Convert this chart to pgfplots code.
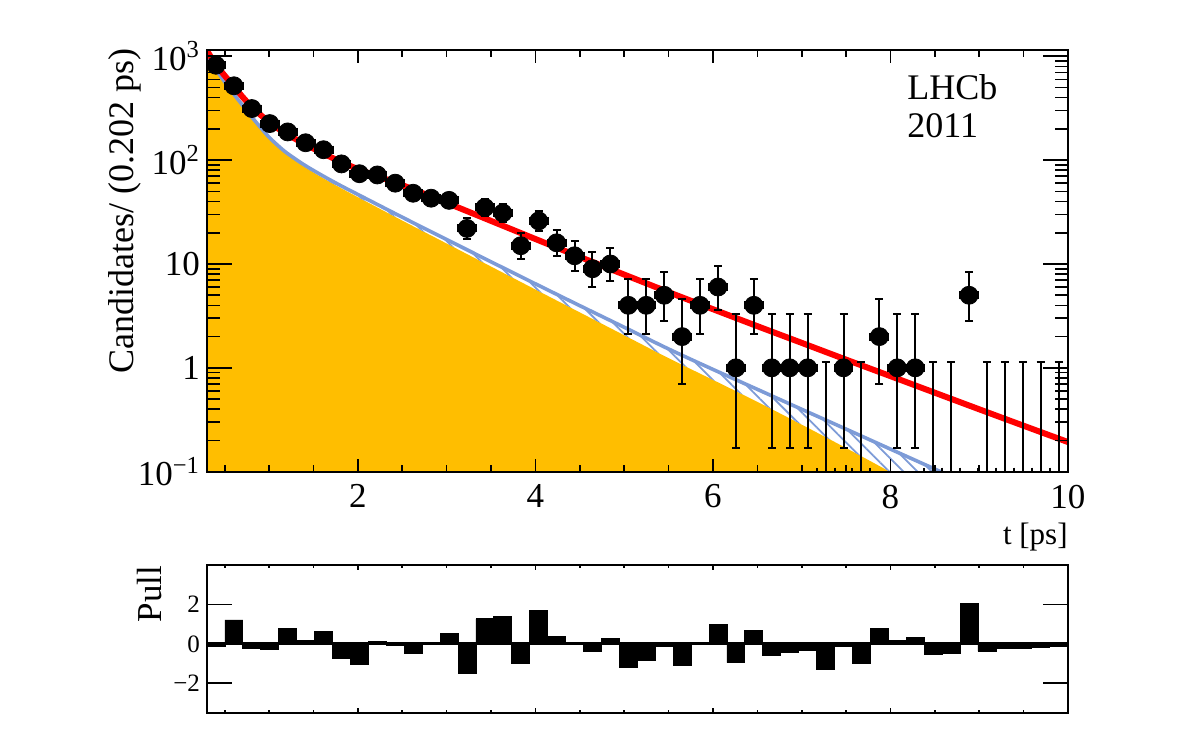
\documentclass[border=0pt]{standalone}
\usepackage{fontspec}
\setmainfont{Liberation Serif}
\usepackage{pgfplots}
\usepackage{pgfplotstable}
\pgfplotsset{compat=1.18}
\usepgfplotslibrary{fillbetween}
\usetikzlibrary{patterns.meta}

\definecolor{sigorange}{RGB}{255,190,0}
\definecolor{bkgblue}{RGB}{125,155,215}
\definecolor{fitred}{RGB}{255,0,0}

\newcommand{\fs}[1]{\fontsize{#1}{#1}\selectfont}

% decay-time histogram: bin centre, candidates, upper and lower Poisson errors
\pgfplotstableread{
t n ep em
0.401 820 29.6 28.6
0.603 520 23.8 22.8
0.805 314 18.7 17.7
1.007 225 16.0 15.0
1.209 187 14.7 13.7
1.411 147 13.1 12.1
1.613 126 12.2 11.2
1.815 92 10.6 9.6
2.017 74 9.6 8.6
2.219 72 9.5 8.5
2.421 60 8.8 7.7
2.623 48 8.0 6.9
2.825 43 7.6 6.5
3.027 41 7.4 6.4
3.229 22 5.8 4.7
3.431 35 7.0 5.9
3.633 31 6.6 5.5
3.835 15 5.0 3.8
4.037 26 6.2 5.1
4.239 16 5.1 4.0
4.441 12 4.6 3.4
4.643 9 4.1 3.0
4.845 10 4.3 3.1
5.047 4 3.2 1.9
5.249 4 3.2 1.9
5.451 5 3.4 2.2
5.653 2 2.6 1.3
5.855 4 3.2 1.9
6.057 6 3.6 2.4
6.259 1 2.3 0.83
6.461 4 3.2 1.9
6.663 1 2.3 0.83
6.865 1 2.3 0.83
7.067 1 2.3 0.83
7.471 1 2.3 0.83
7.875 2 2.6 1.3
8.077 1 2.3 0.83
8.279 1 2.3 0.83
8.885 5 3.4 2.2
}\counts

% empty bins: drawn at the axis floor with their upper error only
\pgfplotstableread{
t n ep
7.269 0.1 1.05
7.673 0.1 1.05
8.481 0.1 1.05
8.683 0.1 1.05
9.087 0.1 1.05
9.289 0.1 1.05
9.491 0.1 1.05
9.693 0.1 1.05
9.895 0.1 1.05
}\emptybins

% total fit
\pgfplotstableread{
t v
0.3 1130
0.4 830
0.5 650
0.6 515
0.7 407
0.8 328
0.9 274
1.0 233
1.1 202
1.2 178
1.4 143
1.6 117
1.8 97
2.0 82
2.2 71
2.5 57.5
3.0 38.8
3.5 26.0
4.0 17.4
4.5 11.7
5.0 7.91
5.5 5.36
6.0 3.67
6.5 2.52
7.0 1.74
7.5 1.20
8.0 0.832
8.5 0.576
9.0 0.399
9.5 0.277
10.0 0.193
}\totalfit

% sum of background components
\pgfplotstableread{
t v
0.3 1006
0.4 750
0.5 566
0.6 434
0.7 338
0.8 263
0.9 208
1.0 166
1.1 138
1.2 117
1.4 89.5
1.6 71
1.8 57.2
2.0 46.7
2.5 28.2
3.0 17.2
3.5 10.5
4.0 6.44
4.5 3.97
5.0 2.46
5.5 1.52
6.0 0.966
6.5 0.621
7.0 0.399
7.5 0.257
8.0 0.165
8.5 0.106
9.0 0.068
}\bkgsum

% dominant background component
\pgfplotstableread{
t v
0.3 998
0.4 743
0.5 560
0.6 428
0.7 333
0.8 258
0.9 203
1.0 161
1.1 133.5
1.2 113
1.4 86
1.6 67.7
1.8 54.3
2.0 44.0
2.5 26.2
3.0 15.75
3.5 9.45
4.0 5.68
4.5 3.42
5.0 2.06
5.5 1.24
6.0 0.766
6.5 0.471
7.0 0.284
7.5 0.169
8.0 0.099
8.5 0.056
}\bkgmain

% pulls per bin (lower bin edge)
\pgfplotstableread{
lo pull
0.300 -0.15
0.502 1.22
0.704 -0.22
0.906 -0.30
1.108 0.80
1.310 0.17
1.512 0.62
1.714 -0.73
1.916 -1.03
2.118 0.13
2.320 -0.10
2.522 -0.50
2.724 0.02
2.926 0.53
3.128 -1.50
3.330 1.28
3.532 1.38
3.734 -0.97
3.936 1.72
4.138 0.37
4.340 -0.03
4.542 -0.38
4.744 0.27
4.946 -1.20
5.148 -0.85
5.350 -0.15
5.552 -1.12
5.754 -0.05
5.956 0.97
6.158 -0.95
6.360 0.67
6.562 -0.60
6.764 -0.45
6.966 -0.33
7.168 -1.28
7.370 -0.15
7.572 -0.97
7.774 0.77
7.976 0.18
8.178 0.33
8.380 -0.55
8.582 -0.50
8.784 2.05
8.986 -0.37
9.188 -0.25
9.390 -0.25
9.592 -0.20
9.794 -0.15
9.996 -0.15
}\pulls

\pgfplotsset{
  frame/.style={
    scale only axis,
    width=430.5pt,
    xmin=0.3, xmax=10,
    axis line style={line width=1pt},
    tick style={line width=0.8pt, black},
    tick align=inside,
  },
  error bars/errstyle/.style={
    error bar style={draw=black, line width=1pt},
    error mark options={rotate=90, draw=black, line width=1pt, mark size=2pt},
  },
}

\begin{document}
\begin{tikzpicture}

% ---- upper panel: data and fit ----
\begin{axis}[frame,
  height=210.85pt, at={(103.5pt,-235.85pt)}, anchor=south west,
  ymode=log, ymin=0.1, ymax=1150,
  axis on top,
  xtick=\empty,
  ytick={0.1,1,10,100,1000},
  yticklabels={10\textsuperscript{−1},1,10,10\textsuperscript{2},10\textsuperscript{3}},
  minor ytick={0.2,0.3,0.4,0.5,0.6,0.7,0.8,0.9,2,3,4,5,6,7,8,9,20,30,40,50,60,70,80,90,200,300,400,500,600,700,800,900},
  major tick length=12.5pt, minor tick length=6.5pt,
  yticklabel style={font=\fs{17.5}},
]
\addplot[name path=floor, draw=none] coordinates {(0.3,0.05) (10,0.05)};
\addplot[name path=bmain, draw=none, smooth] table[x=t,y=v] {\bkgmain};
\addplot[name path=bsum, draw=none, smooth] table[x=t,y=v] {\bkgsum};
\addplot[sigorange, draw=none] fill between[of=bmain and floor];
\addplot[draw=none, pattern={Lines[angle=-45,distance=5pt,line width=0.9pt]}, pattern color=bkgblue] fill between[of=bsum and bmain];
\addplot[bkgblue, line width=1.8pt, smooth] table[x=t,y=v] {\bkgsum};
\addplot[fitred, line width=3pt, smooth] table[x=t,y=v] {\totalfit};
\addplot[only marks, mark=*, mark size=0pt, mark options={draw=none, fill=none},
  error bars/.cd, x dir=both, x fixed=0.101, y dir=plus, y explicit, errstyle]
  table[x=t, y=n, y error plus=ep] {\emptybins};
\addplot[only marks, mark=*, mark size=4.5pt, black, mark options={fill=black},
  error bars/.cd, x dir=both, x fixed=0.101, y dir=both, y explicit, errstyle]
  table[x=t, y=n, y error plus=ep, y error minus=em] {\counts};
\end{axis}

% x ticks and labels of the upper panel
\begin{axis}[frame,
  height=210.85pt, at={(103.5pt,-235.85pt)}, anchor=south west,
  ymode=log, ymin=0.1, ymax=1150,
  ytick=\empty,
  xtick={2,4,6,8,10}, xticklabels={2,4,6,8,10},
  minor xtick={0.5,1,1.5,2.5,3,3.5,4.5,5,5.5,6.5,7,7.5,8.5,9,9.5},
  major tick length=6.5pt, minor tick length=3.5pt,
  xticklabel style={font=\fs{17.5}, yshift=-3pt},
]
\addplot[draw=none] coordinates {(0.3,1) (10,1)};
\end{axis}

% ---- lower panel: pulls ----
\begin{axis}[frame,
  height=73.5pt, at={(103.5pt,-356.25pt)}, anchor=south west,
  ymin=-3.5, ymax=4,
  axis on top,
  xtick=\empty,
  ytick={-2,0,2}, yticklabels={−2,0,2},
  major tick length=12.5pt,
  yticklabel style={font=\fs{12.5}},
]
\addplot[ybar interval, fill=black, draw=black] table[x=lo, y=pull] {\pulls};
\addplot[black, line width=1.5pt] coordinates {(0.3,0) (10,0)};
\end{axis}

\begin{axis}[frame,
  height=73.5pt, at={(103.5pt,-356.25pt)}, anchor=south west,
  ymin=-3.5, ymax=4,
  ytick=\empty,
  xtick={2,4,6,8,10}, xticklabels={},
  minor xtick={0.5,1,1.5,2.5,3,3.5,4.5,5,5.5,6.5,7,7.5,8.5,9,9.5},
  major tick length=2.5pt, minor tick length=1.5pt,
]
\addplot[draw=none] coordinates {(0.3,0) (10,0)};
\end{axis}

% titles and labels
\node[rotate=90, anchor=base east, font=\fs{18}, inner sep=0pt] at (66.5pt,-24pt) {Candidates/ (0.202 ps)};
\node[anchor=base east, font=\fs{15.5}, inner sep=0pt] at (534pt,-272pt) {t [ps]};
\node[anchor=base west, font=\fs{18}, inner sep=0pt] at (453.5pt,-50pt) {LHCb};
\node[anchor=base west, font=\fs{18}, inner sep=0pt] at (453.5pt,-69pt) {2011};
\node[rotate=90, anchor=base east, font=\fs{17.5}, inner sep=0pt] at (80.8pt,-282.75pt) {Pull};

% page frame
\path (0,0) rectangle (591pt,-371pt);
\end{tikzpicture}
\end{document}
